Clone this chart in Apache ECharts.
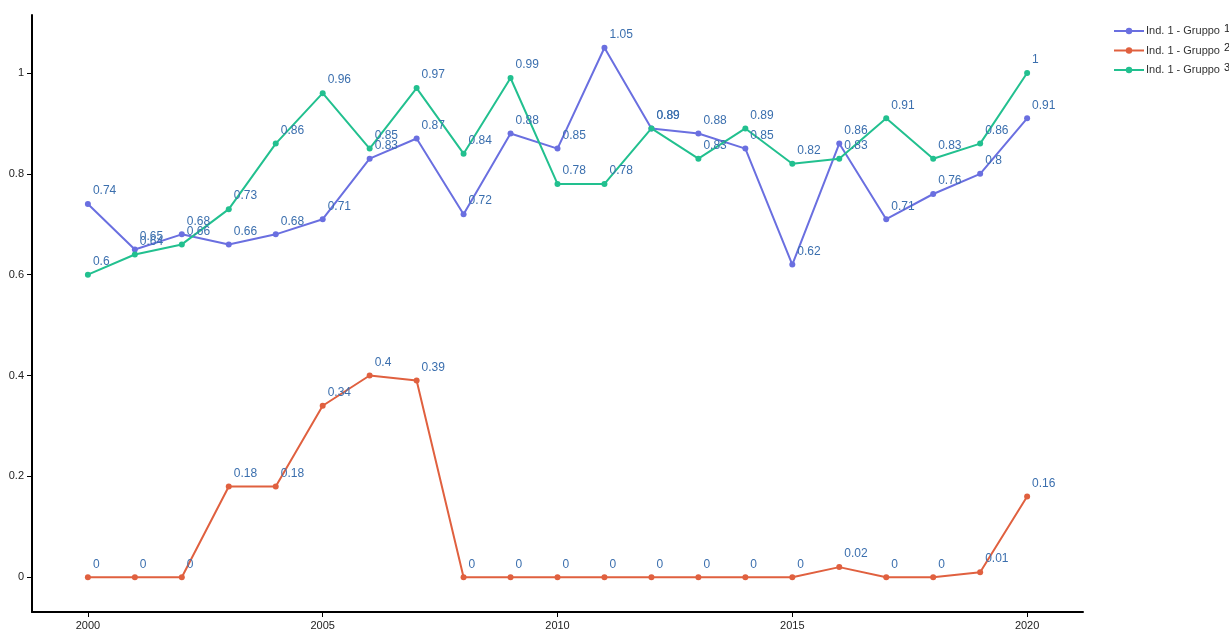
<!DOCTYPE html>
<html><head><meta charset="utf-8">
<script src="https://cdn.jsdelivr.net/npm/echarts@6/dist/echarts.min.js"></script>
<style>html,body{margin:0;padding:0;background:#fff}#c{width:1229px;height:635px}</style>
</head><body><div id="c"></div>
<script>
var years = [2000,2001,2002,2003,2004,2005,2006,2007,2008,2009,2010,2011,2012,2013,2014,2015,2016,2017,2018,2019,2020];
var gruppo1 = [0.74,0.65,0.68,0.66,0.68,0.71,0.83,0.87,0.72,0.88,0.85,1.05,0.89,0.88,0.85,0.62,0.86,0.71,0.76,0.8,0.91];
var gruppo2 = [0,0,0,0.18,0.18,0.34,0.4,0.39,0,0,0,0,0,0,0,0,0.02,0,0,0.01,0.16];
var gruppo3 = [0.6,0.64,0.66,0.73,0.86,0.96,0.85,0.97,0.84,0.99,0.78,0.78,0.89,0.83,0.89,0.82,0.83,0.91,0.83,0.86,1];
var seriesNames = ['Ind. 1 - Gruppo 1','Ind. 1 - Gruppo 2','Ind. 1 - Gruppo 3'];
var xTicks = [2000,2005,2010,2015,2020];
var yTicks = [0,0.2,0.4,0.6,0.8,1];
var colors = ['#6a6fe0','#e0603f','#22c08f'];

function pairs(v){ return years.map(function(y,i){ return [y, v[i]]; }); }
function mk(name, vals, color){
  return {
    name: name, type: 'line', data: pairs(vals),
    symbol: 'circle', symbolSize: 6,
    lineStyle: {width: 2, color: color},
    itemStyle: {color: color},
    label: {show: true, position: [8, -16], color: '#3b6fae', fontSize: 12,
      fontFamily: 'Liberation Sans', formatter: function(p){ return String(p.value[1]); }},
    emphasis: {disabled: true},
    animation: false
  };
}
var chart = echarts.init(document.getElementById('c'), null, {renderer: 'canvas'});
chart.setOption({
  animation: false,
  textStyle: {fontFamily: 'Liberation Sans'},
  grid: {left: 32, right: 146, top: 15, bottom: 23, containLabel: false},
  legend: {
    orient: 'vertical', left: 1108, top: 18, itemGap: 6, itemWidth: 30, itemHeight: 8,
    data: seriesNames,
    formatter: function(n){ var k = n.lastIndexOf(' '); return '{a|' + n.slice(0,k+1) + '}{b|' + n.slice(k+1) + '}'; },
    textStyle: {padding: [0,0,0,-3], rich: {a: {fontSize: 11, color: '#333', fontFamily: 'Liberation Sans'}, b: {fontSize: 11, color: '#222', fontFamily: 'Liberation Sans', padding: [0,0,5,1]}}}
  },
  xAxis: {
    type: 'value', min: 1998.81, max: 2021.19,
    splitLine: {show: false},
    axisLine: {onZero: false, lineStyle: {color: '#000', width: 2}},
    axisTick: {customValues: xTicks, length: 5, lineStyle: {color: '#000'}},
    axisLabel: {customValues: xTicks, color: '#222', fontSize: 11, margin: 8,
      formatter: function(v){ return String(Math.round(v)); }}
  },
  yAxis: {
    type: 'value', min: -0.069, max: 1.115,
    splitLine: {show: false},
    axisLine: {show: true, lineStyle: {color: '#000', width: 2}},
    axisTick: {show: true, customValues: yTicks, length: 5, lineStyle: {color: '#000'}},
    axisLabel: {customValues: yTicks, color: '#222', fontSize: 11, margin: 8,
      formatter: function(v){ return String(Math.round(v*10)/10); }}
  },
  series: [mk(seriesNames[0], gruppo1, colors[0]), mk(seriesNames[1], gruppo2, colors[1]), mk(seriesNames[2], gruppo3, colors[2])]
});
</script></body></html>
